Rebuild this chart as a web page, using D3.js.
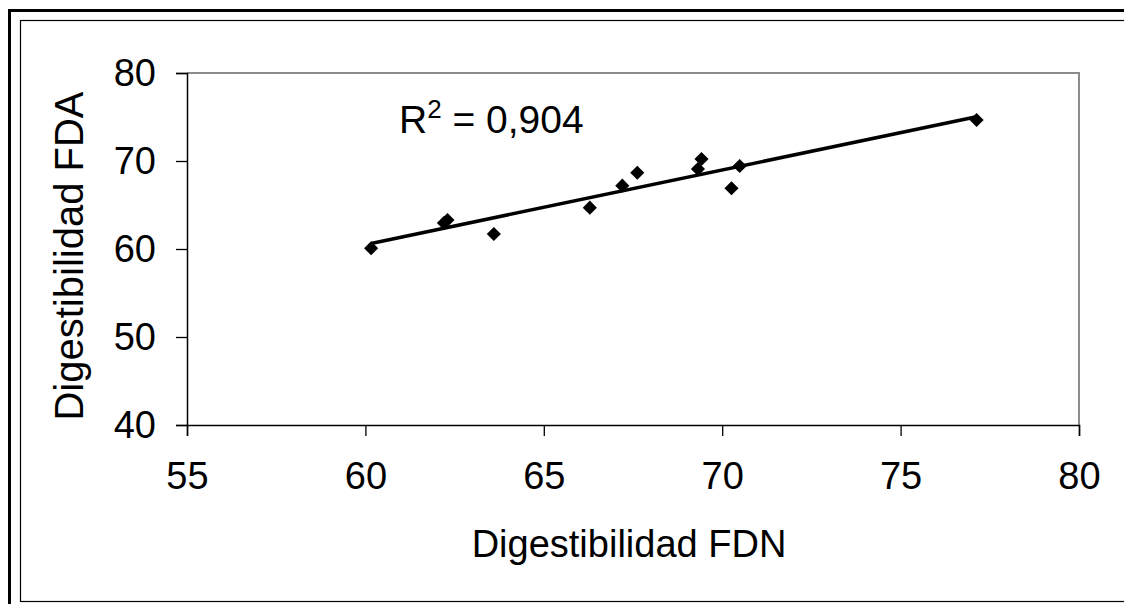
<!DOCTYPE html>
<html>
<head>
<meta charset="utf-8">
<script src="https://cdn.jsdelivr.net/npm/d3@7"></script>
<style>
  html, body { margin: 0; padding: 0; background: #fff; }
  svg { display: block; font-family: "Liberation Sans", Arial, sans-serif; }
</style>
</head>
<body>
<svg id="chart" width="1124" height="604"></svg>
<script>
// Data
const fdn = [60.16, 62.3, 62.2, 63.6, 66.29, 67.2, 67.62, 69.42, 69.32, 70.49, 70.26, 77.13];
const fda = [60.08, 63.3, 62.95, 61.7, 64.7, 67.2, 68.67, 70.23, 69.09, 69.43, 66.9, 74.66];
const xTicks = [55, 60, 65, 70, 75, 80];
const yTicks = [40, 50, 60, 70, 80];
const xTitle = "Digestibilidad FDN";
const yTitle = "Digestibilidad FDA";
const r2Text = "0,904";

const svg = d3.select("#chart");
const W = 1124, H = 604;

// frame
svg.append("rect").attr("x", 20.5).attr("y", 20.5).attr("width", 1130).attr("height", 581)
  .attr("fill", "#fff").attr("stroke", "#000").attr("stroke-width", 1.2);
svg.append("line").attr("x1", 9.5).attr("x2", 9.5).attr("y1", 9).attr("y2", H)
  .attr("stroke", "#000").attr("stroke-width", 3);
svg.append("line").attr("x1", 8).attr("x2", W).attr("y1", 10.5).attr("y2", 10.5)
  .attr("stroke", "#000").attr("stroke-width", 3);

const x = d3.scaleLinear().domain([55, 80]).range([187, 1079]);
const y = d3.scaleLinear().domain([40, 80]).range([425, 73]);

// plot area border (gray top/right)
svg.append("path")
  .attr("d", `M${x(55)},${y(80)}H${x(80)}V${y(40)}`)
  .attr("fill", "none").attr("stroke", "#8c8c8c").attr("stroke-width", 2);

const tickFont = 38;

// x axis
const xAxis = d3.axisBottom(x).tickValues(xTicks).tickSize(11).tickPadding(26).tickFormat(d3.format("d"));
const gx = svg.append("g").attr("transform", `translate(0,${y(40)})`).call(xAxis);
gx.select(".domain").attr("stroke", "#000").attr("stroke-width", 1.5);
gx.selectAll(".tick line").attr("stroke", "#000").attr("stroke-width", 1.3);
gx.selectAll("text").attr("font-size", tickFont).attr("fill", "#000")
  .attr("font-family", "Liberation Sans, Arial, sans-serif");

// y axis
const yAxis = d3.axisLeft(y).tickValues(yTicks).tickSize(11).tickPadding(20).tickFormat(d3.format("d"));
const gy = svg.append("g").attr("transform", `translate(${x(55)},0)`).call(yAxis);
gy.select(".domain").attr("stroke", "#000").attr("stroke-width", 1.5);
gy.selectAll(".tick line").attr("stroke", "#000").attr("stroke-width", 1.3);
gy.selectAll("text").attr("font-size", tickFont).attr("fill", "#000")
  .attr("font-family", "Liberation Sans, Arial, sans-serif");

// linear regression trend line
const n = fdn.length;
const mx = d3.mean(fdn), my = d3.mean(fda);
let sxy = 0, sxx = 0;
for (let i = 0; i < n; i++) { sxy += (fdn[i]-mx)*(fda[i]-my); sxx += (fdn[i]-mx)**2; }
const slope = sxy / sxx, intercept = my - slope * mx;
const x0 = d3.min(fdn), x1 = d3.max(fdn);
svg.append("line")
  .attr("x1", x(x0)).attr("y1", y(intercept + slope * x0))
  .attr("x2", x(x1)).attr("y2", y(intercept + slope * x1))
  .attr("stroke", "#000").attr("stroke-width", 3.5);

// points (diamonds)
const diamond = d3.symbol().type(d3.symbolSquare).size(100);
svg.append("g").selectAll("path").data(d3.range(n)).join("path")
  .attr("d", diamond)
  .attr("transform", i => `translate(${x(fdn[i])},${y(fda[i])}) rotate(45)`)
  .attr("fill", "#000");

// R^2 label
const r2 = svg.append("text").attr("x", 399).attr("y", 133).attr("font-size", 39).attr("fill", "#000");
r2.append("tspan").text("R");
r2.append("tspan").attr("font-size", 26).attr("dy", -15).text("2");
r2.append("tspan").attr("dy", 15).text(" = " + r2Text);

// axis titles
svg.append("text").attr("x", 629).attr("y", 557).attr("text-anchor", "middle")
  .attr("font-size", 38).attr("fill", "#000").text(xTitle);
svg.append("text").attr("transform", `translate(83,256) rotate(-90)`).attr("text-anchor", "middle")
  .attr("font-size", 40).attr("fill", "#000").text(yTitle);
</script>
</body>
</html>
